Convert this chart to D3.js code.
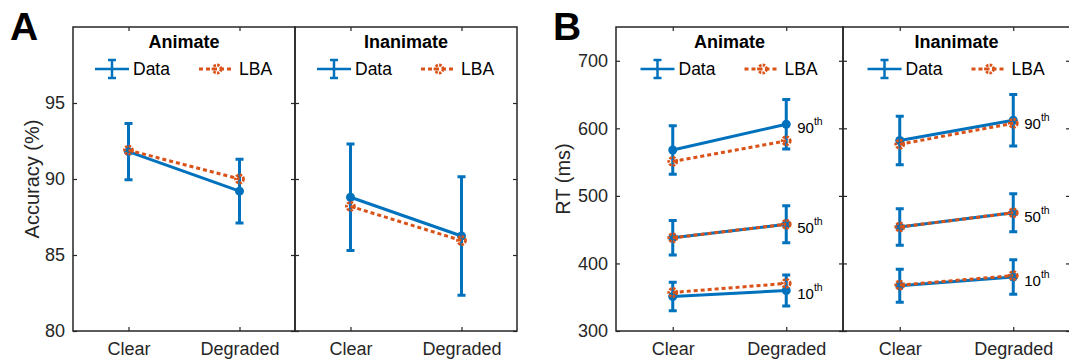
<!DOCTYPE html>
<html>
<head>
<meta charset="utf-8">
<script src="https://cdn.jsdelivr.net/npm/d3@7"></script>
<style>
  body { margin: 0; background: #fff; }
  svg { font-family: 'Liberation Sans', Arial, Helvetica, sans-serif; }
</style>
</head>
<body>
<svg id="chart" width="1069" height="363"></svg>
<script>
// categories
const conditions = ['Clear', 'Degraded'];
const groups = ['Animate', 'Inanimate'];
const quantiles = ['10', '50', '90'];

// panel A: accuracy (%), [group][condition]
const accData = [[91.8, 89.2], [88.8, 86.25]];
const accErr = [[1.85, 2.1], [3.5, 3.9]];
const accLBA = [[91.9, 90.0], [88.2, 85.95]];

// panel B: RT quantiles (ms), [group][quantile][condition]
const rtData = [
  [[351, 360], [438, 458], [568, 606]],
  [[367, 380], [454, 475], [582, 612]]
];
const rtErr = [
  [[21, 23], [25.5, 27.5], [36, 36.5]],
  [[24.5, 25.5], [27, 28], [36, 38]]
];
const rtLBA = [
  [[357, 370.5], [438, 458], [551, 581.5]],
  [[368, 382], [454, 475], [576.5, 607.5]]
];

const blue = '#0072BD', orange = '#D95319', axisCol = '#262626';
const svg = d3.select('#chart');

function drawPanel(cfg) {
  const { left, subW, top, bottom, yDomain, yTicks, ylabel, ylabelX, letter, series } = cfg;
  const y = d3.scaleLinear().domain(yDomain).range([bottom, top]);
  const g = svg.append('g');

  // panel letter
  g.append('text')
    .attr('x', left - 63).attr('y', 40)
    .attr('font-size', 39).attr('font-weight', 'bold')
    .attr('fill', '#000')
    .text(letter);

  // y label
  g.append('text')
    .attr('transform', 'translate(' + ylabelX + ',' + ((top + bottom) / 2) + ') rotate(-90)')
    .attr('text-anchor', 'middle')
    .attr('dy', '0.35em')
    .attr('font-size', 20)
    .attr('fill', axisCol)
    .text(ylabel);

  groups.forEach((grp, gi) => {
    const sx = left + gi * subW;
    const cx = sx + subW / 2;
    const x = d3.scalePoint().domain(conditions).range([sx, sx + subW]).padding(0.5);
    const a = g.append('g');

    // box
    a.append('rect')
      .attr('x', sx).attr('y', top)
      .attr('width', subW).attr('height', bottom - top)
      .attr('fill', 'none').attr('stroke', axisCol).attr('stroke-width', 1.5);

    // x axis bottom with labels
    const xb = a.append('g')
      .attr('transform', 'translate(0,' + bottom + ')')
      .call(d3.axisBottom(x).tickSizeInner(-4).tickSizeOuter(0).tickPadding(11));
    xb.select('.domain').remove();
    xb.selectAll('text').attr('font-size', 18).attr('fill', axisCol).attr('font-family', null);
    xb.selectAll('line').attr('stroke', axisCol).attr('stroke-width', 1.2);

    // x ticks top
    const xt = a.append('g')
      .attr('transform', 'translate(0,' + top + ')')
      .call(d3.axisTop(x).tickSizeInner(-4).tickSizeOuter(0).tickFormat(''));
    xt.select('.domain').remove();
    xt.selectAll('line').attr('stroke', axisCol).attr('stroke-width', 1.2);

    // y ticks left and right
    const yl = a.append('g')
      .attr('transform', 'translate(' + sx + ',0)')
      .call(d3.axisLeft(y).tickValues(yTicks).tickSizeInner(-4).tickSizeOuter(0).tickPadding(8)
        .tickFormat(gi === 0 ? d3.format('d') : ''));
    yl.select('.domain').remove();
    yl.selectAll('text').attr('font-size', 18).attr('fill', axisCol).attr('font-family', null);
    yl.selectAll('line').attr('stroke', axisCol).attr('stroke-width', 1.2);

    const yr = a.append('g')
      .attr('transform', 'translate(' + (sx + subW) + ',0)')
      .call(d3.axisRight(y).tickValues(yTicks).tickSizeInner(-4).tickSizeOuter(0).tickFormat(''));
    yr.select('.domain').remove();
    yr.selectAll('line').attr('stroke', axisCol).attr('stroke-width', 1.2);

    // title
    a.append('text')
      .attr('x', cx).attr('y', 48)
      .attr('text-anchor', 'middle')
      .attr('font-size', 18).attr('font-weight', 'bold')
      .attr('fill', '#000')
      .text(grp);

    // legend
    const ly = 69;
    const lg = a.append('g');
    lg.append('line')
      .attr('x1', cx - 89).attr('x2', cx - 55).attr('y1', ly).attr('y2', ly)
      .attr('stroke', blue).attr('stroke-width', 2.5);
    const ex = cx - 72;
    lg.append('path')
      .attr('d', 'M' + ex + ',' + (ly - 9) + 'V' + (ly + 9) +
        'M' + (ex - 4) + ',' + (ly - 9) + 'H' + (ex + 4) +
        'M' + (ex - 4) + ',' + (ly + 9) + 'H' + (ex + 4))
      .attr('stroke', blue).attr('stroke-width', 2.5).attr('fill', 'none');
    lg.append('text')
      .attr('x', cx - 51).attr('y', ly).attr('dy', '0.36em')
      .attr('font-size', 17.5).attr('fill', '#000')
      .text('Data');
    lg.append('line')
      .attr('x1', cx + 15).attr('x2', cx + 50).attr('y1', ly).attr('y2', ly)
      .attr('stroke', orange).attr('stroke-width', 3).attr('stroke-dasharray', '4,3');
    lg.append('circle')
      .attr('cx', cx + 33).attr('cy', ly).attr('r', 4)
      .attr('fill', 'none').attr('stroke', orange).attr('stroke-width', 2.8)
      .attr('stroke-dasharray', '2.5,1.2');
    lg.append('text')
      .attr('x', cx + 55).attr('y', ly).attr('dy', '0.36em')
      .attr('font-size', 17.5).attr('fill', '#000')
      .text('LBA');

    // series
    const line = d3.line().x((d, i) => x(conditions[i])).y(d => y(d));
    series(gi).forEach(s => {
      const sg = a.append('g');
      // error bars
      s.data.forEach((v, i) => {
        const px = x(conditions[i]);
        const t = y(v + s.err[i]), b = y(v - s.err[i]);
        sg.append('path')
          .attr('d', 'M' + px + ',' + t + 'V' + b +
            'M' + (px - 4) + ',' + t + 'H' + (px + 4) +
            'M' + (px - 4) + ',' + b + 'H' + (px + 4))
          .attr('stroke', blue).attr('stroke-width', 3).attr('fill', 'none');
      });
      sg.append('path')
        .datum(s.data)
        .attr('d', line)
        .attr('fill', 'none').attr('stroke', blue).attr('stroke-width', 3);
      sg.selectAll('circle.dat')
        .data(s.data).enter().append('circle')
        .attr('cx', (d, i) => x(conditions[i])).attr('cy', d => y(d))
        .attr('r', 4.5).attr('fill', blue);
      sg.append('path')
        .datum(s.lba)
        .attr('d', line)
        .attr('fill', 'none').attr('stroke', orange).attr('stroke-width', 3)
        .attr('stroke-dasharray', '4,3');
      sg.selectAll('circle.lba')
        .data(s.lba).enter().append('circle')
        .attr('cx', (d, i) => x(conditions[i])).attr('cy', d => y(d))
        .attr('r', 4).attr('fill', 'none').attr('stroke', orange).attr('stroke-width', 2.8)
        .attr('stroke-dasharray', '2.5,1.2');
      if (s.label) {
        const lt = sg.append('text')
          .attr('x', x(conditions[1]) + 11).attr('y', y(s.data[1]) + 9)
          .attr('font-size', 15).attr('fill', '#000');
        lt.append('tspan').text(s.label);
        lt.append('tspan').attr('dy', -8).attr('font-size', 10.5).text('th');
      }
    });
  });
}

drawPanel({
  left: 73, subW: 222, top: 27, bottom: 331,
  yDomain: [80, 100], yTicks: [80, 85, 90, 95],
  ylabel: 'Accuracy (%)', ylabelX: 32, letter: 'A',
  series: gi => [{ data: accData[gi], err: accErr[gi], lba: accLBA[gi] }]
});

drawPanel({
  left: 616, subW: 227, top: 27, bottom: 331,
  yDomain: [300, 750], yTicks: [300, 400, 500, 600, 700],
  ylabel: 'RT (ms)', ylabelX: 563, letter: 'B',
  series: gi => quantiles.map((q, qi) => ({
    data: rtData[gi][qi], err: rtErr[gi][qi], lba: rtLBA[gi][qi], label: q
  }))
});
</script>
</body>
</html>
